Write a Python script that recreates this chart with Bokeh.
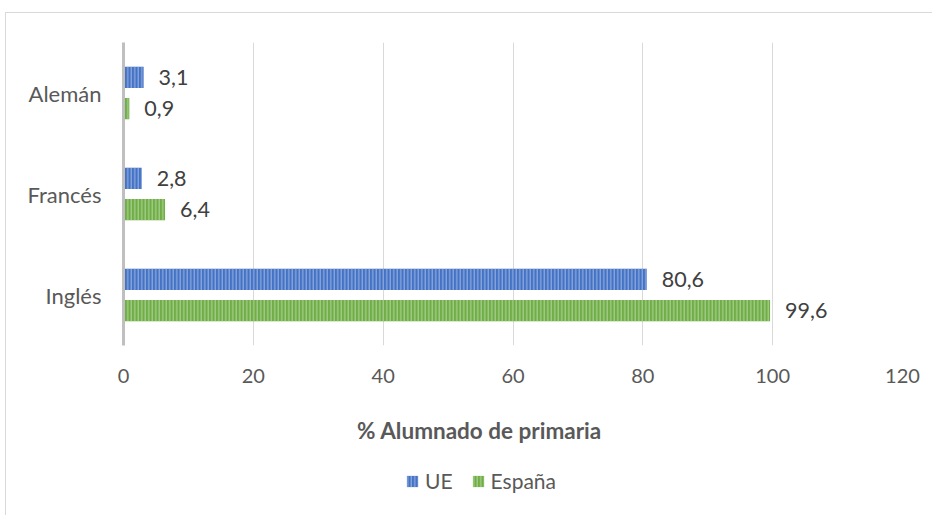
from bokeh.plotting import figure
from bokeh.layouts import column
from bokeh.models import (ColumnDataSource, LabelSet, Label, Legend, LegendItem, FactorRange,
                          FixedTicker, Range1d)
from bokeh.transform import dodge
from bokeh.embed import file_html
from bokeh.resources import INLINE
from bokeh.core.properties import value

languages = ["Inglés", "Francés", "Alemán"]
ue = [80.6, 2.8, 3.1]
espana = [99.6, 6.4, 0.9]
x_ticks = [0, 20, 40, 60, 80, 100, 120]
series_names = ["UE", "España"]
x_title = "% Alumnado de primaria"

def fmt(v):
    return f"{v:.1f}".replace(".", ",")

src = ColumnDataSource(dict(
    lang=languages, ue=ue, es=espana,
    ue_lbl=[fmt(v) for v in ue], es_lbl=[fmt(v) for v in espana],
))

FONT = "Lato"
TXT = "#595959"
BLUE = "#4472C4"
GREEN = "#70AD47"
BAR_STYLES = [
    dict(fill_color=BLUE, line_color=None, hatch_pattern="vertical_line",
         hatch_color="#9fb7e6", hatch_scale=3.5, hatch_weight=1),
    dict(fill_color=GREEN, line_color=None, hatch_pattern="vertical_line",
         hatch_color="#b3d69c", hatch_scale=3.5, hatch_weight=1),
]

p = figure(width=927, height=382, y_range=FactorRange(factors=languages),
           x_range=(0, 120), output_backend="svg", toolbar_location=None,
           min_border_left=117, min_border_right=31, min_border_top=29,
           min_border_bottom=50)
p.outline_line_color = None
p.background_fill_color = "white"
p.border_fill_color = "white"

p.hbar(y=dodge("lang", 0.155, range=p.y_range), right="ue", left=0, height=0.21,
       source=src, **BAR_STYLES[0])
p.hbar(y=dodge("lang", -0.155, range=p.y_range), right="es", left=0, height=0.21,
       source=src, **BAR_STYLES[1])

for col, lbl, off in (("ue", "ue_lbl", 0.155), ("es", "es_lbl", -0.155)):
    p.add_layout(LabelSet(x=col, y=dodge("lang", off, range=p.y_range), text=lbl, source=src,
                          x_offset=15, text_baseline="middle", text_align="left",
                          text_font=value(FONT), text_font_size="21.5px", text_color="#404040"))

p.xaxis.ticker = FixedTicker(ticks=x_ticks)
p.xaxis.axis_line_color = None
p.xaxis.major_tick_line_color = None
p.xaxis.minor_tick_line_color = None
p.xaxis.major_label_text_font = FONT
p.xaxis.major_label_text_font_size = "20px"
p.xaxis.major_label_text_color = TXT
p.xaxis.major_label_standoff = 17

p.yaxis.axis_line_color = "#bfbfbf"
p.yaxis.axis_line_width = 3
p.yaxis.major_tick_line_color = None
p.yaxis.minor_tick_line_color = None
p.yaxis.major_label_text_font = FONT
p.yaxis.major_label_text_font_size = "22px"
p.yaxis.major_label_text_color = TXT
p.yaxis.major_label_standoff = 16

p.xgrid.grid_line_color = "#d9d9d9"
p.ygrid.grid_line_color = None

# strip below the chart: axis title and legend (its frame aligns with the chart's frame)
lg = figure(width=927, height=200, x_range=Range1d(0, 777), y_range=Range1d(172, 0),
            x_axis_type=None, y_axis_type=None,
            output_backend="svg", toolbar_location=None,
            min_border_left=117, min_border_right=31, min_border_top=0, min_border_bottom=28)
lg.grid.visible = False
lg.outline_line_color = None
lg.background_fill_color = "white"
lg.border_fill_color = "white"

lg.add_layout(Label(x=233, y=35, text=x_title, text_align="left", text_baseline="middle",
                    text_font=FONT, text_font_size="22.5px", text_font_style="bold",
                    text_color=TXT))

proxies = [lg.hbar(y=[0], left=[0], right=[0], height=0, **st) for st in BAR_STYLES]

legend = Legend(items=[LegendItem(label=n, renderers=[r]) for n, r in zip(series_names, proxies)],
                orientation="horizontal", location=(282, 74),
                label_text_font=FONT, label_text_font_size="21px", label_text_color=TXT,
                glyph_width=14, glyph_height=14, border_line_color=None,
                background_fill_alpha=0, spacing=18, label_standoff=6, margin=0, padding=0)
lg.add_layout(legend, "center")

layout = column(p, lg, spacing=0)
layout.margin = (12, 0, 0, 5)
layout.styles = {"border": "1px solid #d9d9d9"}

open("out.html", "w").write(file_html(layout, INLINE))
